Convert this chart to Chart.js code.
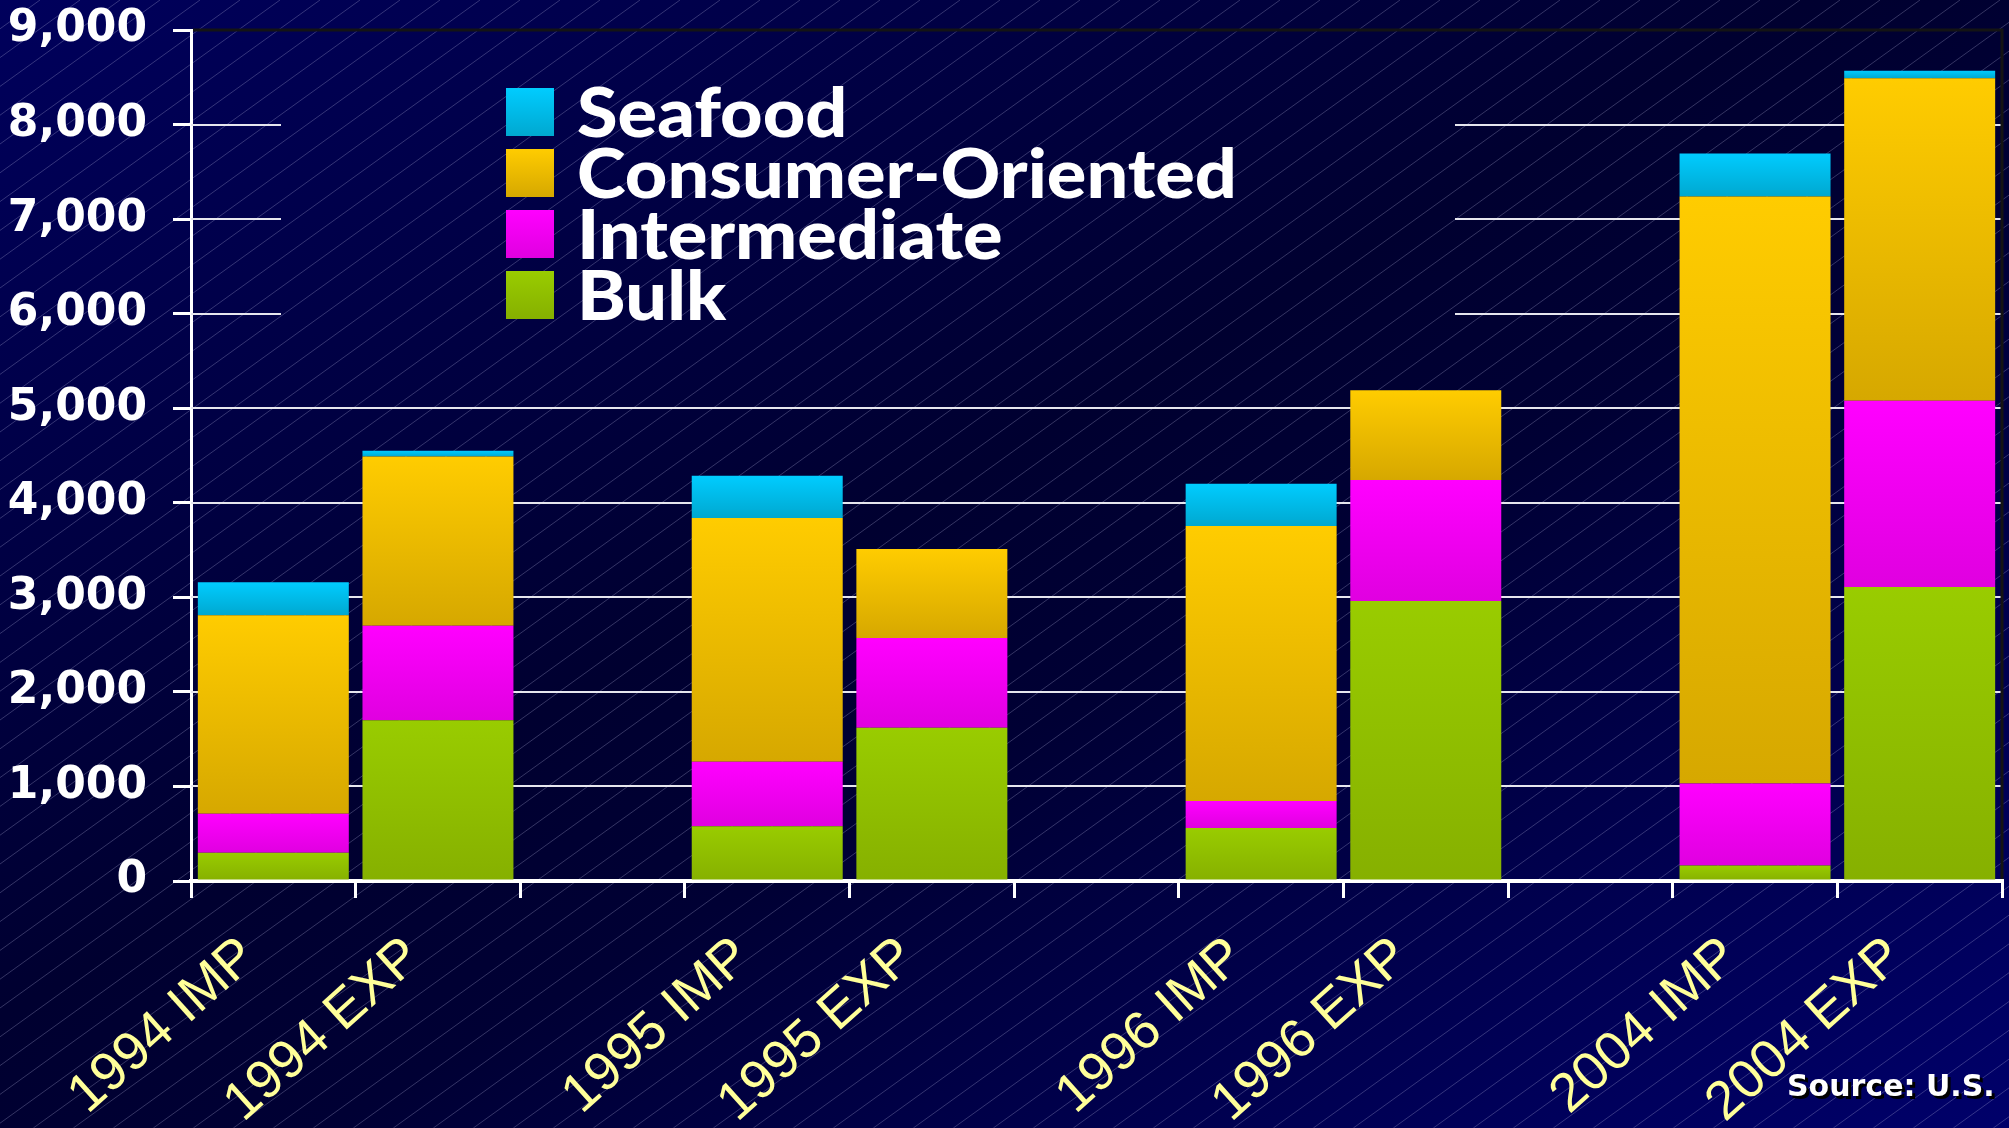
<!DOCTYPE html>
<html>
<head>
<meta charset="utf-8">
<script src="https://cdn.jsdelivr.net/npm/chart.js@4.4.0/dist/chart.umd.min.js"></script>
<style>
  html, body { margin: 0; padding: 0; background: #000033; overflow: hidden; }
  canvas { display: block; }
</style>
</head>
<body>
<canvas id="c" width="2009" height="1128"></canvas>
<script>
// ---------------- DATA ----------------
const categories = ['1994 IMP', '1994 EXP', '', '1995 IMP', '1995 EXP', '', '1996 IMP', '1996 EXP', '', '2004 IMP', '2004 EXP'];
const bulk             = [300, 1700, null, 580, 1620, null, 560, 2960, null, 165, 3110];
const intermediate     = [410, 1000, null, 680,  950, null, 285, 1280, null, 865, 1970];
const consumerOriented = [2100, 1790, null, 2580, 940, null, 2910, 950, null, 6210, 3410];
const seafood          = [350,   60, null, 445,    0, null, 445,    0, null, 455,   80];
const seriesLabels = ['Bulk', 'Intermediate', 'Consumer-Oriented', 'Seafood'];
const yMax = 9000;
const yStep = 1000;
const sourceNote = 'Source: U.S.';

// ---------------- STYLES ----------------
const gradStops = {
  'Bulk': ['#99cc00', '#86b000'],
  'Intermediate': ['#ff00ff', '#e000e0'],
  'Consumer-Oriented': ['#ffcc00', '#d6a800'],
  'Seafood': ['#00ccff', '#00a8d0']
};

function barGradient(c) {
  const chart = c.chart;
  const label = chart.data.datasets[c.datasetIndex].label;
  const [topC, botC] = gradStops[label];
  if (c.type !== 'data' || !chart.chartArea || !chart.scales.y) return topC;
  const yScale = chart.scales.y;
  let base = 0;
  for (let d = 0; d < c.datasetIndex; d++) base += chart.data.datasets[d].data[c.dataIndex] || 0;
  const val = chart.data.datasets[c.datasetIndex].data[c.dataIndex] || 0;
  const yTop = yScale.getPixelForValue(base + val);
  const yBot = yScale.getPixelForValue(base);
  if (!isFinite(yTop) || !isFinite(yBot) || Math.abs(yTop - yBot) < 1) return topC;
  const g = chart.ctx.createLinearGradient(0, yTop, 0, yBot);
  g.addColorStop(0, topC);
  g.addColorStop(1, botC);
  return g;
}

const backgroundPlugin = {
  id: 'bg',
  beforeDraw(chart) {
    const { ctx, width: W, height: H } = chart;
    ctx.save();
    const cx = W / 2, cy = H / 2;
    const len = Math.hypot(W, H);
    const ux = H / len, uy = W / len;
    const t = W * H / len;
    const g = ctx.createLinearGradient(cx - t * ux, cy - t * uy, cx + t * ux, cy + t * uy);
    g.addColorStop(0, '#00005c');
    g.addColorStop(0.45, '#000030');
    g.addColorStop(0.58, '#000034');
    g.addColorStop(1, '#00006a');
    ctx.fillStyle = g;
    ctx.fillRect(0, 0, W, H);
    // diagonal pinstripes
    ctx.strokeStyle = 'rgba(190,190,230,0.28)';
    ctx.lineWidth = 1;
    const slope = 0.72, dx = 40;
    ctx.beginPath();
    for (let x0 = -H / slope; x0 < W + dx; x0 += dx) {
      ctx.moveTo(x0, H);
      ctx.lineTo(x0 + H / slope, 0);
    }
    ctx.stroke();
    ctx.restore();
  }
};

const gridPlugin = {
  id: 'gridGap',
  beforeDatasetsDraw(chart) {
    const { ctx, chartArea: a, scales: { y } } = chart;
    ctx.save();
    ctx.strokeStyle = '#e6e6ee';
    ctx.lineWidth = 2;
    const gapL = 281, gapR = 1455, gapBottom = 380;
    y.ticks.forEach(tk => {
      if (tk.value <= 0 || tk.value >= yMax) return;
      const py = Math.round(y.getPixelForValue(tk.value));
      ctx.beginPath();
      if (py < gapBottom) {
        ctx.moveTo(a.left, py); ctx.lineTo(gapL, py);
        ctx.moveTo(gapR, py); ctx.lineTo(a.right, py);
      } else {
        ctx.moveTo(a.left, py); ctx.lineTo(a.right, py);
      }
      ctx.stroke();
    });
    // dark frame at top and right
    ctx.strokeStyle = '#141414';
    ctx.lineWidth = 3;
    ctx.beginPath();
    ctx.moveTo(a.left + 2, y.getPixelForValue(yMax));
    ctx.lineTo(a.right, y.getPixelForValue(yMax));
    ctx.lineTo(a.right, a.bottom - 2);
    ctx.stroke();
    ctx.restore();
  }
};

const legendPlugin = {
  id: 'customLegend',
  afterDatasetsDraw(chart) {
    const { ctx } = chart;
    const items = chart.data.datasets.map(d => d.label).reverse();
    const boxX = 506, boxW = 48, startY = 88, pitch = 61, textX = 577, targetW = 660;
    ctx.save();
    ctx.font = '900 68px Lato';
    ctx.textAlign = 'left';
    ctx.textBaseline = 'alphabetic';
    const longest = Math.max(...items.map(s => ctx.measureText(s).width));
    const sx = targetW / longest;
    items.forEach((lab, i) => {
      const top = startY + i * pitch;
      const [c1, c2] = gradStops[lab];
      const g = ctx.createLinearGradient(0, top, 0, top + boxW);
      g.addColorStop(0, c1); g.addColorStop(1, c2);
      ctx.fillStyle = g;
      ctx.fillRect(boxX, top, boxW, boxW);
      ctx.fillStyle = '#ffffff';
      ctx.save();
      ctx.translate(textX, top + 49);
      ctx.scale(sx, 1);
      ctx.fillText(lab, 0, 0);
      ctx.restore();
    });
    ctx.restore();
  },
  afterDraw(chart) {
    const { ctx } = chart;
    ctx.save();
    ctx.font = 'bold 30px "DejaVu Sans"';
    ctx.textAlign = 'left';
    ctx.textBaseline = 'alphabetic';
    ctx.fillStyle = '#000000';
    ctx.fillText(sourceNote, 1790, 1099);
    ctx.fillStyle = '#ffffff';
    ctx.fillText(sourceNote, 1787, 1096);
    ctx.restore();
  }
};

const seriesData = [bulk, intermediate, consumerOriented, seafood];

new Chart(document.getElementById('c'), {
  type: 'bar',
  data: {
    labels: categories,
    datasets: seriesLabels.map((lab, i) => ({
      label: lab,
      data: seriesData[i],
      backgroundColor: barGradient,
      borderWidth: 0,
      barPercentage: 0.917,
      categoryPercentage: 1.0
    }))
  },
  options: {
    responsive: false,
    animation: false,
    devicePixelRatio: 1,
    layout: { padding: { top: 30, right: 7, left: 0, bottom: 0 } },
    plugins: { legend: { display: false }, tooltip: { enabled: false } },
    scales: {
      x: {
        stacked: true,
        offset: true,
        grid: { drawOnChartArea: false, drawTicks: true, tickLength: 17, color: '#ffffff', lineWidth: 3, offset: true },
        border: { display: true, color: '#ffffff', width: 4 },
        ticks: {
          autoSkip: false,
          minRotation: 42,
          maxRotation: 42,
          labelOffset: -24,
          padding: 27,
          color: '#ffff99',
          font: { family: '"Liberation Sans", Arial, sans-serif', size: 54, weight: 'normal' }
        },
        afterFit(scale) { scale.height = 247; }
      },
      y: {
        stacked: true,
        min: 0,
        max: yMax,
        grid: { drawOnChartArea: false, drawTicks: true, tickLength: 18, color: '#ffffff', lineWidth: 3 },
        border: { display: true, color: '#ffffff', width: 3 },
        ticks: {
          stepSize: yStep,
          padding: 26,
          color: '#ffffff',
          font: { family: '"DejaVu Sans", sans-serif', size: 44, weight: 'bold' },
          callback: v => Number(v).toLocaleString('en-US')
        },
        afterFit(scale) {
          scale.width = 191;
          scale.paddingTop = 20;
          scale.paddingBottom = 20;
        }
      }
    }
  },
  plugins: [backgroundPlugin, gridPlugin, legendPlugin]
});
</script>
</body>
</html>
